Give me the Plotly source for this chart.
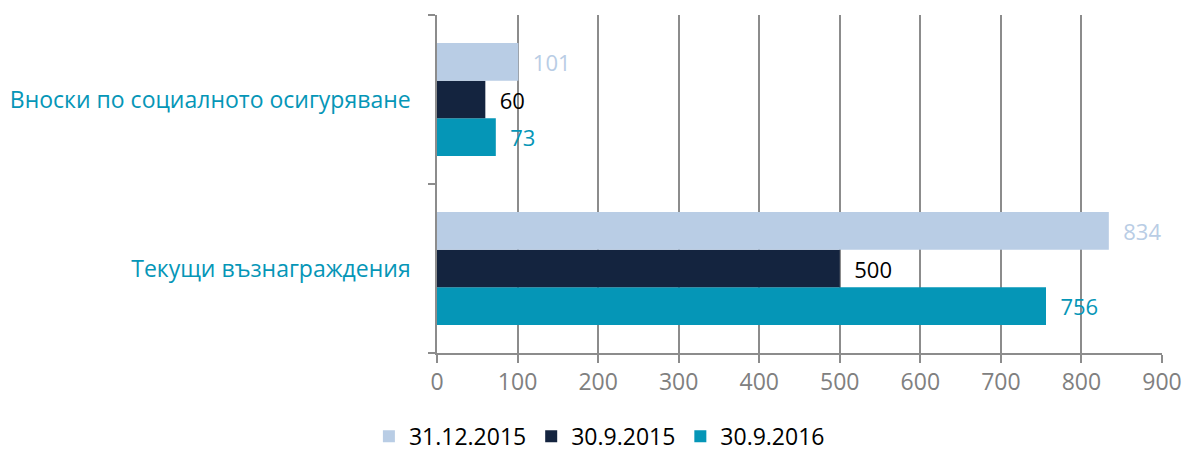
import plotly.graph_objects as go

categories = ["Текущи възнаграждения", "Вноски по социалното осигуряване"]
series_names = ["31.12.2015", "30.9.2015", "30.9.2016"]
values_31_12_2015 = [834, 101]
values_30_9_2015 = [500, 60]
values_30_9_2016 = [756, 73]
x_ticks = [0, 100, 200, 300, 400, 500, 600, 700, 800, 900]

colors = {"31.12.2015": "#b9cde5", "30.9.2015": "#14243f", "30.9.2016": "#0596b7"}
text_colors = {"31.12.2015": "#b9cde5", "30.9.2015": "#000000", "30.9.2016": "#0596b7"}
data = {"31.12.2015": values_31_12_2015, "30.9.2015": values_30_9_2015, "30.9.2016": values_30_9_2016}

fig = go.Figure()
# plotly places the first trace lowest in a horizontal group -> add in reverse
for rank, name in zip([3, 2, 1], reversed(series_names)):
    vals = data[name]
    fig.add_trace(go.Bar(
        y=categories, x=vals, name=name, orientation="h",
        marker=dict(color=colors[name], line=dict(width=0)),
        text=["\u00a0\u00a0" + str(v) for v in vals],
        textposition="outside", constraintext="none", cliponaxis=False,
        textfont=dict(color=text_colors[name], size=22, family="Open Sans"),
        legendrank=rank,
    ))

fig.update_layout(
    barmode="group", bargap=0.33, bargroupgap=0,
    width=1186, height=455,
    margin=dict(l=437, r=24, t=15, b=102, autoexpand=False),
    plot_bgcolor="white", paper_bgcolor="white",
    font=dict(family="Open Sans", size=22),
    legend=dict(orientation="h", x=0.224, xanchor="center", y=-0.31, yanchor="bottom",
                font=dict(size=23, color="#000000"), itemwidth=30),
    xaxis=dict(range=[0, 900], tickvals=x_ticks, showgrid=True, gridcolor="#8c8c8c", gridwidth=1.5,
               showline=True, linecolor="#8c8c8c", linewidth=1.5, automargin=False,
               ticks="outside", ticklen=8, tickcolor="#8c8c8c", tickwidth=1.5,
               tickfont=dict(color="#808080", size=23), zeroline=False),
    yaxis=dict(range=[-0.5, 1.5], showline=True, linecolor="#8c8c8c", linewidth=1.5, automargin=False,
               ticks="outside", tickson="boundaries", ticklen=7, tickcolor="#8c8c8c", tickwidth=1.5,
               tickfont=dict(color="#0596b7", size=23), ticklabelstandoff=20, showgrid=False),
)

fig.write_html("out.html", config={"displayModeBar": False},
               post_script="document.body.style.margin='0';document.body.style.overflow='hidden';")
